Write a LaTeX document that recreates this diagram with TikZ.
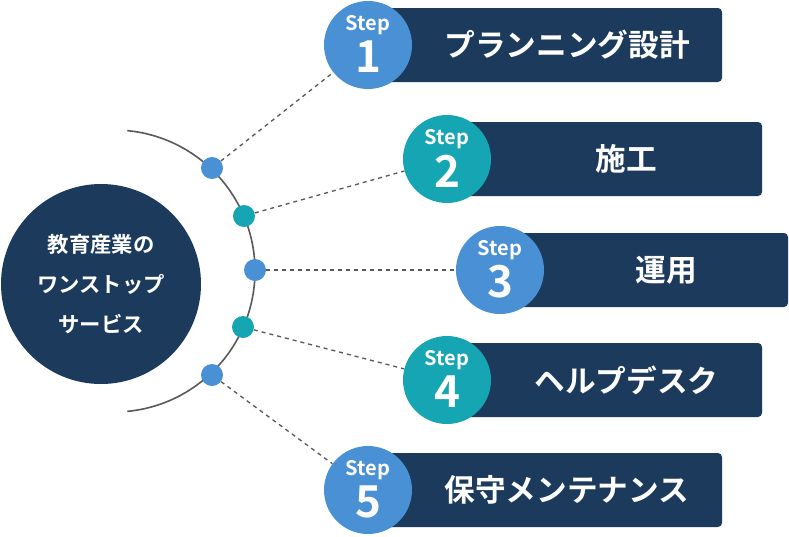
\documentclass[tikz,border=0pt]{standalone}
\usepackage{fontspec}
\newfontfamily\jpb{Noto Sans CJK JP}[BoldFont={* Bold}]
\definecolor{navy}{HTML}{1B3A5C}
\definecolor{sblue}{HTML}{4A90D4}
\definecolor{steal}{HTML}{16A5B3}
\begin{document}
\begin{tikzpicture}[x=0.75pt,y=-0.75pt,
  box/.style={fill=navy,rounded corners=3pt},
  dot/.style={circle,inner sep=0pt,minimum size=16.5pt},
  stepc/.style={circle,inner sep=0pt,minimum size=66pt,text=white,align=center},
  lbl/.style={text=white,font=\jpb\bfseries\fontsize{23}{26}\selectfont},
  conn/.style={draw=gray!70!black,dashed,line width=1pt}]
\useasboundingbox (0,0) rectangle (789,536);
\node[circle,fill=navy,minimum size=150pt,inner sep=0pt,text=white,align=center,
  font=\jpb\bfseries\fontsize{16}{30}\selectfont] (main) at (101,284) {教育産業の\\ワンストップ\\サービス};
\draw[gray!70!black,line width=1.2pt] (114,271) ++(-84.6:141) arc[start angle=-84.6,end angle=84.6,radius=141];
\node[dot,fill=sblue] (d1) at (212,168) {};
\node[dot,fill=steal] (d2) at (244,216) {};
\node[dot,fill=sblue] (d3) at (255,270) {};
\node[dot,fill=steal] (d4) at (243,327) {};
\node[dot,fill=sblue] (d5) at (212,375) {};
\newcommand\stepitem[7]{%
  \fill[box] (#2,#3-37) rectangle (#4,#3+37);
  \node[stepc,fill=#5] (s#1) at (#2,#3) {};
  \node[text=white,font=\jpb\bfseries\fontsize{15}{15}\selectfont] at (#2,#3-20) {Step};
  \node[text=white,font=\jpb\bfseries\fontsize{33}{33}\selectfont] at (#2,#3+12) {#1};
  \node[lbl] (t#1) at ({(#2+44+#4)/2},#3) {#6};
  \draw[conn] (#7) -- (s#1);}
\stepitem{1}{368}{45}{722}{sblue}{プランニング設計}{d1}
\stepitem{2}{447}{159}{762}{steal}{施工}{d2}
\stepitem{3}{500}{270}{788}{sblue}{運用}{d3}
\stepitem{4}{447}{380}{762}{steal}{ヘルプデスク}{d4}
\stepitem{5}{368}{490}{722}{sblue}{保守メンテナンス}{d5}
\end{tikzpicture}
\end{document}
